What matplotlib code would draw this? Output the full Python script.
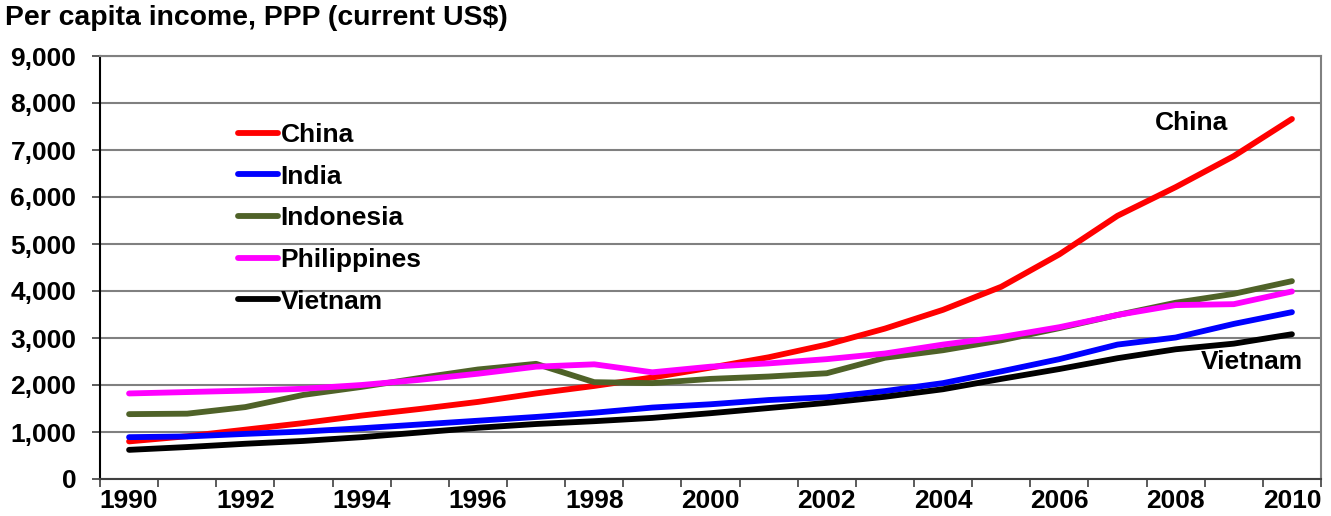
import matplotlib.pyplot as plt
from matplotlib.ticker import FuncFormatter

plt.rcParams['font.family'] = ['Liberation Sans', 'DejaVu Sans']
plt.rcParams['font.weight'] = 'bold'

years = list(range(1990, 2011))
china = [800, 910, 1050, 1190, 1350, 1490, 1640, 1820, 1980, 2160, 2370,
         2590, 2860, 3200, 3600, 4090, 4780, 5600, 6210, 6870, 7660]
india = [890, 905, 960, 1010, 1080, 1160, 1240, 1320, 1410, 1520, 1590,
         1680, 1740, 1870, 2040, 2290, 2550, 2860, 3010, 3300, 3550]
indonesia = [1380, 1390, 1530, 1790, 1960, 2150, 2330, 2450, 2060, 2040, 2130,
             2180, 2250, 2580, 2740, 2950, 3210, 3490, 3750, 3940, 4210]
philippines = [1820, 1850, 1880, 1920, 2000, 2110, 2240, 2390, 2440, 2270, 2390,
               2460, 2550, 2670, 2860, 3020, 3230, 3490, 3700, 3720, 3990]
vietnam = [620, 680, 750, 810, 890, 990, 1090, 1170, 1230, 1300, 1400,
           1510, 1620, 1750, 1910, 2130, 2340, 2570, 2760, 2880, 3080]

series = [
    ('China', china, '#FF0000'),
    ('India', india, '#0000FF'),
    ('Indonesia', indonesia, '#4F6228'),
    ('Philippines', philippines, '#FF00FF'),
    ('Vietnam', vietnam, '#000000'),
]

fig = plt.figure(figsize=(13.31, 5.16), dpi=100)
ax = fig.add_axes([100 / 1331, 37 / 516, 1221 / 1331, 423 / 516])

for name, vals, col in series:
    ax.plot(years, vals, color=col, lw=4.2, label=name,
            solid_capstyle='round', zorder=3)

ax.set_xlim(1989.5, 2010.5)
ax.set_ylim(0, 9000)
ax.set_yticks(range(0, 9001, 1000))
ax.yaxis.set_major_formatter(FuncFormatter(lambda v, p: f'{int(v):,}'))
ax.grid(axis='y', color='#808080', lw=1.5, zorder=0)

# tick marks between categories, labels on every other year
ax.set_xticks([y - 0.5 for y in years] + [2010.5])
ax.set_xticklabels([])
ax.set_xticks(years[::2], minor=True)
ax.set_xticklabels([str(y) for y in years[::2]], minor=True)
ax.tick_params(axis='x', which='major', length=6, width=1.2, color='#404040')
ax.tick_params(axis='x', which='minor', length=0, pad=7, labelsize=19)
ax.tick_params(axis='y', length=6, width=1.2, color='#404040', labelsize=19, pad=11)

for s in ['top', 'right']:
    ax.spines[s].set_color('#808080')
    ax.spines[s].set_linewidth(1.5)
ax.spines['left'].set_linewidth(1.5)
ax.spines['bottom'].set_linewidth(1.5)
ax.spines['bottom'].set_color('#404040')

ax.legend(loc='upper left', bbox_to_anchor=(0.113, 0.842), frameon=False,
          fontsize=19, handlelength=1.5, handletextpad=0.12, labelspacing=0.67,
          borderaxespad=0, borderpad=0)

ax.text(2008.27, 7575, 'China', fontsize=19, fontweight='bold', ha='center', va='center')
ax.text(2009.31, 2490, 'Vietnam', fontsize=19, fontweight='bold', ha='center', va='center')

fig.text(5 / 1331, 1 - 18 / 516, 'Per capita income, PPP (current US\\$)',
         fontsize=20.4, fontweight='bold', ha='left', va='center')

fig.savefig('out.png', dpi=100)
